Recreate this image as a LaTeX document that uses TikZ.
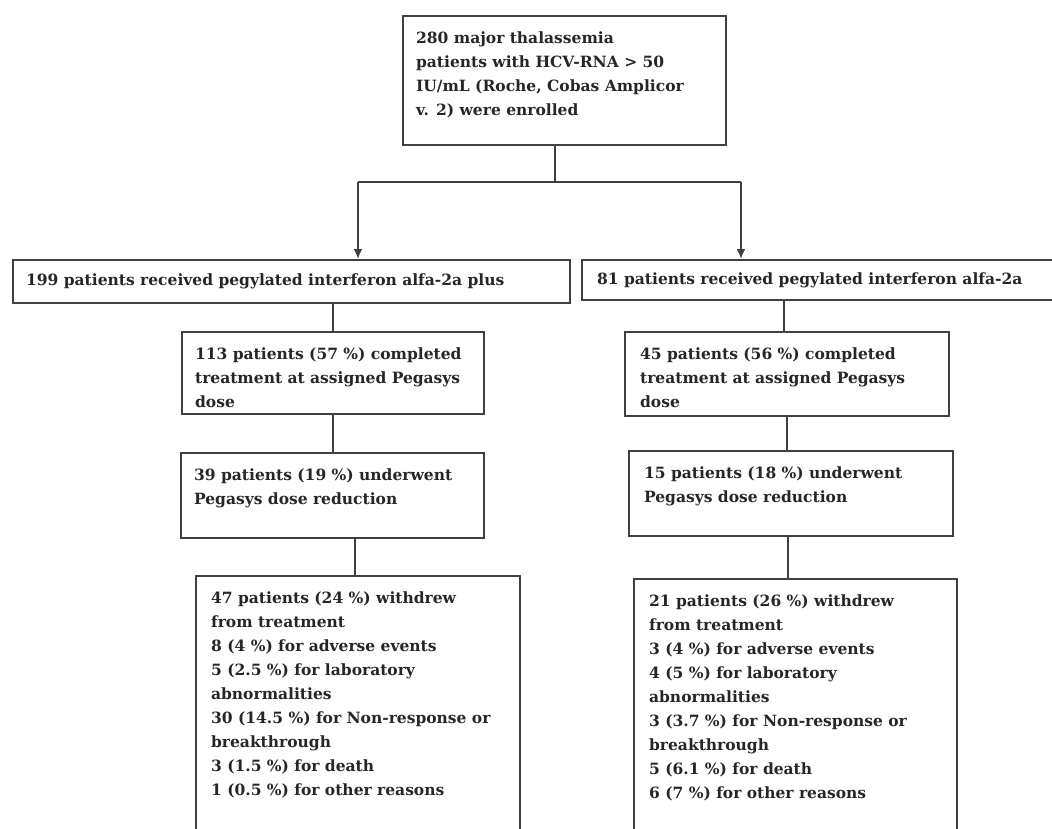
\documentclass[tikz,border=0pt]{standalone}
\usepackage{fontspec}
\setmainfont{DejaVu Serif}
\usepackage{xcolor}
\usetikzlibrary{arrows.meta,positioning}
\newcommand{\boxtext}[3]{\parbox[c][#2][t]{#1}{\raggedright\rule{0pt}{27pt}#3}}
\tikzset{
    stage/.style={rectangle, draw=black!75, line width=2.2pt, anchor=north west,
                  inner xsep=13pt, inner ysep=0pt, text=black!85,
                  font=\fontsize{15.5}{24}\selectfont\bfseries},
    arm/.style={stage, minimum height=43pt},
    line/.style={draw=black!75, line width=2.2pt},
}
\begin{document}
\begin{tikzpicture}[x=1pt, y=-1pt]
    \useasboundingbox (0,0) rectangle (1052,828);
    \clip (0,0) rectangle (1052,828);
    % enrolment
    \node [stage] (enrol) at (402,15) {\boxtext{297pt}{129pt}{280 major thalassemia\\patients with HCV-RNA > 50\\IU/mL (Roche, Cobas Amplicor\\v. 2) were enrolled}};
    \coordinate (split)  at (555,182);
    \coordinate (lsplit) at (358,182);
    \coordinate (rsplit) at (741,182);
    % the two arms
    \node [arm] (plus) at (12,259) {\parbox{531pt}{199 patients received pegylated interferon alfa-2a plus}};
    \node [arm, minimum height=40pt, inner xsep=15pt] (mono) at (581,259) {\parbox{480pt}{81 patients received pegylated interferon alfa-2a}};
    % left column
    \node [stage] (lcompl) at (181,331) {\boxtext{276pt}{82pt}{113 patients (57 \%) completed\\treatment at assigned Pegasys\\dose}};
    \node [stage] (lred)   at (180,452) {\boxtext{277pt}{85pt}{39 patients (19 \%) underwent\\Pegasys dose reduction}};
    \node [stage, inner xsep=15pt] (lwith) at (195,575) {\boxtext{294pt}{300pt}{47 patients (24 \%) withdrew\\from treatment\\8 (4 \%) for adverse events\\5 (2.5 \%) for laboratory\\abnormalities\\30 (14.5 \%) for Non-response or\\breakthrough\\3 (1.5 \%) for death\\1 (0.5 \%) for other reasons}};
    % right column
    \node [stage, inner xsep=15pt] (rcompl) at (624,331) {\boxtext{294pt}{84pt}{45 patients (56 \%) completed\\treatment at assigned Pegasys\\dose}};
    \node [stage, inner xsep=15pt] (rred)   at (628,450) {\boxtext{294pt}{85pt}{15 patients (18 \%) underwent\\Pegasys dose reduction}};
    \node [stage, inner xsep=15pt] (rwith)  at (633,578) {\boxtext{293pt}{300pt}{21 patients (26 \%) withdrew\\from treatment\\3 (4 \%) for adverse events\\4 (5 \%) for laboratory\\abnormalities\\3 (3.7 \%) for Non-response or\\breakthrough\\5 (6.1 \%) for death\\6 (7 \%) for other reasons}};
    % connectors
    \draw [line] (enrol.south -| split) -- (split);
    \draw [line] (lsplit) -- (rsplit);
    \draw [line, -{Latex[length=10pt, width=9pt]}] (lsplit) -- (lsplit |- plus.north);
    \draw [line, -{Latex[length=10pt, width=9pt]}] (rsplit) -- (rsplit |- mono.north);
    \draw [line] (lcompl.north) -- (lcompl.north |- plus.south);
    \draw [line] (lred.north) -- (lred.north |- lcompl.south);
    \draw [line] ([xshift=-3pt]lwith.north) -- ([xshift=-3pt]lwith.north |- lred.south);
    \draw [line] ([xshift=-3pt]rcompl.north) -- ([xshift=-3pt]rcompl.north |- mono.south);
    \draw [line] ([xshift=-4pt]rred.north) -- ([xshift=-4pt]rred.north |- rcompl.south);
    \draw [line] ([xshift=-8pt]rwith.north) -- ([xshift=-8pt]rwith.north |- rred.south);
\end{tikzpicture}
\end{document}
